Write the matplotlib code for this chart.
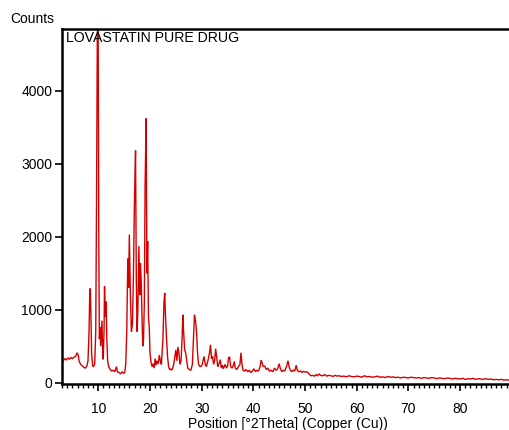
import matplotlib
matplotlib.use("Agg")
import matplotlib.pyplot as plt
from matplotlib.ticker import MultipleLocator

# Traced diffraction profile (2Theta in degrees, counts)
two_theta = [
    3.0, 3.2, 3.5, 3.8, 4.1, 4.4, 4.7, 5.0, 5.3, 5.6, 5.9, 6.1, 6.3, 6.6, 6.9, 7.2, 7.5, 7.8,
    8.0, 8.2, 8.35, 8.45, 8.55, 8.7, 8.9, 9.1, 9.3, 9.5, 9.65, 9.8, 9.95, 10.1, 10.2, 10.35,
    10.45, 10.6, 10.7, 10.8, 10.95, 11.1, 11.2, 11.35, 11.5, 11.65, 11.8, 12.0, 12.3, 12.6,
    12.9, 13.2, 13.5, 13.7, 14.0, 14.3, 14.6, 14.9, 15.1, 15.3, 15.5, 15.7, 15.85, 16.0, 16.2,
    16.4, 16.6, 16.8, 17.0, 17.2, 17.35, 17.5, 17.65, 17.85, 18.0, 18.15, 18.3, 18.45, 18.6,
    18.75, 18.9, 19.05, 19.25, 19.4, 19.55, 19.7, 19.85, 20.0, 20.2, 20.4, 20.6, 20.8, 21.0,
    21.2, 21.4, 21.6, 21.8, 22.0, 22.2, 22.5, 22.7, 22.85, 23.0, 23.2, 23.4, 23.6, 23.8, 24.0,
    24.2, 24.4, 24.6, 24.8, 25.0, 25.2, 25.4, 25.6, 25.8, 26.0, 26.2, 26.35, 26.5, 26.7, 26.9,
    27.1, 27.3, 27.6, 27.9, 28.2, 28.4, 28.6, 28.8, 29.0, 29.2, 29.4, 29.7, 30.0, 30.2, 30.45,
    30.7, 30.9, 31.2, 31.5, 31.7, 31.9, 32.1, 32.3, 32.5, 32.7, 32.9, 33.1, 33.3, 33.6, 33.8,
    34.0, 34.2, 34.5, 34.8, 35.0, 35.2, 35.4, 35.6, 35.9, 36.1, 36.3, 36.5, 36.8, 37.1, 37.4,
    37.6, 37.8, 38.0, 38.3, 38.6, 38.9, 39.2, 39.5, 39.8, 40.1, 40.4, 40.7, 41.0, 41.3, 41.5,
    41.7, 41.9, 42.2, 42.5, 42.8, 43.1, 43.4, 43.8, 44.1, 44.4, 44.7, 45.0, 45.2, 45.5, 45.8,
    46.1, 46.4, 46.7, 46.9, 47.1, 47.4, 47.7, 48.0, 48.3, 48.5, 48.8, 49.1, 49.4, 49.7, 50.0,
    50.3, 50.6, 50.9, 51.2, 51.5, 51.8, 52.1, 52.4, 52.7, 53.0, 53.4, 53.8, 54.2, 54.6, 55.0,
    55.4, 55.8, 56.2, 56.6, 57.0, 57.5, 58.0, 58.5, 59.0, 59.5, 60.0, 60.5, 61.0, 61.5, 62.0,
    62.5, 63.0, 63.5, 64.0, 64.5, 65.0, 65.5, 66.0, 66.5, 67.0, 67.5, 68.0, 68.5, 69.0, 69.5,
    70.0, 70.5, 71.0, 71.5, 72.0, 72.5, 73.0, 73.5, 74.0, 74.5, 75.0, 75.5, 76.0, 76.5, 77.0,
    77.5, 78.0, 78.5, 79.0, 79.5, 80.0, 80.5, 81.0, 81.5, 82.0, 82.5, 83.0, 83.5, 84.0, 84.5,
    85.0, 85.5, 86.0, 86.5, 87.0, 87.5, 88.0, 88.5, 89.0, 89.5, 90.0, 90.5,
]
counts = [
    310, 300, 330, 310, 340, 320, 345, 330, 350, 360, 410, 380, 290, 250, 230, 210, 200, 230,
    300, 700, 1250, 1290, 1000, 400, 230, 220, 260, 700, 2470, 4700, 5200, 1800, 600, 760,
    500, 700, 850, 500, 320, 700, 1320, 900, 1110, 600, 300, 220, 180, 160,
    170, 150, 220, 150, 140, 120, 150, 130, 140, 250, 700, 1700, 1300, 2030, 1200,
    700, 800, 1500, 2550, 3180, 1400, 700, 1000, 1870, 1200, 1640, 1390, 900, 500,
    600, 1100, 2690, 3620, 1500, 1940, 900, 770, 400, 280, 220, 260, 200, 330,
    240, 300, 260, 380, 300, 250, 600, 1100, 1230, 900, 600, 350, 220, 180, 190,
    170, 200, 260, 350, 450, 300, 490, 400, 250, 300, 600, 930, 700, 450, 410,
    300, 200, 180, 170, 250, 600, 930, 850, 700, 400, 250, 220, 230, 280, 360,
    250, 220, 300, 400, 520, 330, 360, 250, 300, 465, 350, 220, 250, 315, 200,
    240, 190, 250, 200, 230, 340, 355, 220, 200, 230, 290, 200, 180, 220, 250,
    410, 250, 170, 160, 180, 150, 170, 140, 160, 190, 150, 170, 160, 220, 310,
    270, 220, 230, 180, 200, 160, 170, 150, 200, 170, 190, 260, 200, 150, 170,
    160, 220, 300, 220, 180, 150, 170, 160, 240, 170, 150, 160, 140, 155, 145,
    150, 135, 110, 95, 100, 90, 110, 95, 120, 100, 95, 110, 90, 100, 95,
    85, 100, 90, 95, 85, 90, 80, 95, 85, 80, 90, 85, 75, 95, 80,
    85, 75, 80, 90, 75, 80, 70, 85, 75, 80, 70, 75, 65, 75, 70,
    65, 75, 70, 65, 70, 60, 70, 65, 60, 70, 65, 55, 65, 60, 55,
    65, 60, 50, 60, 55, 50, 60, 45, 55, 50, 60, 45, 55, 50, 45,
    55, 45, 50, 40, 45, 40, 45, 35, 40, 35, 40, 38,
]

x_ticks = [10, 20, 30, 40, 50, 60, 70, 80]
y_ticks = [0, 1000, 2000, 3000, 4000]
sample_label = "LOVASTATIN PURE DRUG"
x_label = "Position [°2Theta] (Copper (Cu))"
y_label = "Counts"

plt.rcParams["font.family"] = ["Liberation Sans", "DejaVu Sans"]

fig = plt.figure(figsize=(5.09, 4.30), dpi=100)
ax = fig.add_axes([62 / 509, 1 - 384 / 430, 1 - 62 / 509 + 0.01, (384 - 29) / 430])

ax.plot(two_theta, counts, color="#d40000", linewidth=1.0, solid_joinstyle="miter")

ax.set_xlim(2.97, 90.45)
ax.set_ylim(-18, 4845)
ax.set_xticks(x_ticks)
ax.set_yticks(y_ticks)
ax.xaxis.set_minor_locator(MultipleLocator(1))
ax.tick_params(axis="both", which="major", direction="out", length=5, width=1.2,
               labelsize=10, colors="black")
ax.tick_params(axis="x", which="major", pad=8)
ax.tick_params(axis="y", which="major", pad=2)
ax.tick_params(axis="x", which="minor", direction="out", length=3, width=1.0)

for side in ["left", "bottom", "top"]:
    ax.spines[side].set_linewidth(1.8)
    ax.spines[side].set_color("black")
ax.spines["right"].set_visible(False)

ax.text(0.008, 0.995, sample_label, transform=ax.transAxes, ha="left", va="top",
        fontsize=10.2)
ax.set_xlabel(x_label, fontsize=10, labelpad=1)
fig.text(10 / 509, 1 - 19 / 430, y_label, ha="left", va="center", fontsize=10)

fig.savefig("out.png", dpi=100)
